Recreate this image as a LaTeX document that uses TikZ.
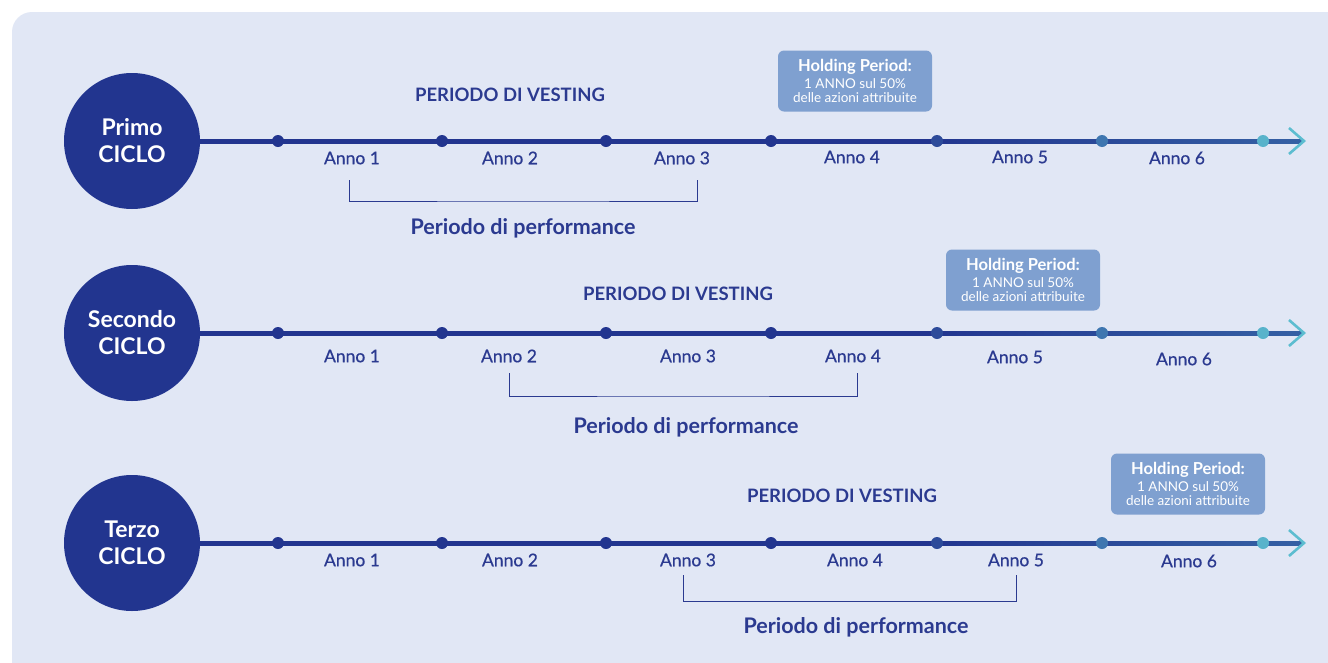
\documentclass[tikz,border=0pt]{standalone}
\usepackage{fontspec}
\setmainfont{Lato}
\newfontfamily\medfont{Lato}[FakeBold=0.5]
\usetikzlibrary{calc}
\definecolor{bgc}{HTML}{E1E7F5}
\definecolor{navy}{HTML}{22358F}
\definecolor{txt}{HTML}{2B3A90}
\definecolor{hold}{HTML}{7FA0D0}
\definecolor{midb}{HTML}{3A6DAA}
\definecolor{tealc}{HTML}{5CBDD0}
\definecolor{dotc5}{HTML}{2D4B9A}
\definecolor{dotc6}{HTML}{3E76B0}
\definecolor{dotc7}{HTML}{58B3CB}
\pgfdeclarehorizontalshading{lineshade}{100bp}{color(0bp)=(navy); color(58bp)=(navy); color(80bp)=(midb); color(100bp)=(tealc)}
\tikzset{
  cycle/.style={circle, fill=navy, minimum size=136pt, inner sep=0pt, text=white, font=\bfseries\fontsize{23}{27}\selectfont, align=center},
  yeardot/.style={circle, minimum size=12pt, inner sep=0pt},
  year/.style={text=txt, font=\medfont\fontsize{17.5}{19}\selectfont, inner sep=0pt},
  vest/.style={text=txt, font=\bfseries\fontsize{18.5}{20}\selectfont, inner sep=0pt},
  perf/.style={text=txt, font=\bfseries\fontsize{21.5}{24}\selectfont, inner sep=0pt},
  holdbox/.style={fill=hold, rounded corners=6pt, minimum width=154pt, minimum height=61pt, inner sep=0pt, text=white, align=center, font=\fontsize{13.5}{14.5}\selectfont},
  bracketline/.style={draw=txt, line width=1pt},
  arrowhead/.style={draw=tealc, line width=2.6pt},
}
\newcommand{\holdtext}{{\bfseries\fontsize{16.5}{18}\selectfont Holding Period:}\\[2pt]1 ANNO sul 50\%\\delle azioni attribuite}
\begin{document}
\begin{tikzpicture}[x=1pt,y=-1pt]
\useasboundingbox (0,0) rectangle (1328,662);
\clip (0,0) rectangle (1328,662);
\fill[white] (0,0) rectangle (1328,662);
\fill[bgc, rounded corners=20pt] (12,12) rectangle (1360,700);

\foreach \r/\yy in {1/141, 2/333, 3/543}{
  \coordinate (end\r) at (1304,\yy);
  \shade[shading=lineshade] (196,\yy-2) rectangle (1302,\yy+2);
  \draw[arrowhead] ($(end\r)+(-15,-13)$) -- (end\r) -- ($(end\r)+(-15,13)$);
  \foreach \i/\xx/\cc in {1/278/navy, 2/442/navy, 3/606/navy, 4/771/navy, 5/937/dotc5, 6/1102/dotc6, 7/1263/dotc7}{
    \node[yeardot, fill=\cc] (d\r-\i) at (\xx,\yy) {};
  }
}

% circles
\node[cycle] (c1) at (132,141) {Primo\\CICLO};
\node[cycle] (c2) at (132,333) {Secondo\\CICLO};
\node[cycle] (c3) at (132,543) {Terzo\\CICLO};

% Row 1
\node[year] (r1a1) at (352,158) {Anno 1};
\node[year] (r1a2) at (510,158) {Anno 2};
\node[year] (r1a3) at (682,158) {Anno 3};
\node[year] (r1a4) at (852,157) {Anno 4};
\node[year] (r1a5) at (1020,157) {Anno 5};
\node[year] (r1a6) at (1177,158) {Anno 6};
\node[vest] (v1) at (510,95) {PERIODO DI VESTING};
\node[holdbox] (h1) at (855,81) {\holdtext};
\coordinate (b1l) at (349,180);
\coordinate (b1r) at (697,180);
\draw[bracketline] (b1l) |- (523,201) -| (b1r);
\node[perf] (p1) at (523,228) {Periodo di performance};

% Row 2
\node[year] (r2a1) at (352,356) {Anno 1};
\node[year] (r2a2) at (509,356) {Anno 2};
\node[year] (r2a3) at (688,356) {Anno 3};
\node[year] (r2a4) at (853,356) {Anno 4};
\node[year] (r2a5) at (1015,357) {Anno 5};
\node[year] (r2a6) at (1184,359) {Anno 6};
\node[vest] (v2) at (678,294) {PERIODO DI VESTING};
\node[holdbox] (h2) at (1023,280) {\holdtext};
\coordinate (b2l) at (509,373);
\coordinate (b2r) at (857,373);
\draw[bracketline] (b2l) |- (683,396) -| (b2r);
\node[perf] (p2) at (686,427) {Periodo di performance};

% Row 3
\node[year] (r3a1) at (352,560) {Anno 1};
\node[year] (r3a2) at (510,560) {Anno 2};
\node[year] (r3a3) at (688,560) {Anno 3};
\node[year] (r3a4) at (855,560) {Anno 4};
\node[year] (r3a5) at (1016,560) {Anno 5};
\node[year] (r3a6) at (1189,561) {Anno 6};
\node[vest] (v3) at (842,496) {PERIODO DI VESTING};
\node[holdbox] (h3) at (1188,484) {\holdtext};
\coordinate (b3l) at (683,575);
\coordinate (b3r) at (1016,575);
\draw[bracketline] (b3l) |- (850,601) -| (b3r);
\node[perf] (p3) at (856,627) {Periodo di performance};
\end{tikzpicture}
\end{document}
